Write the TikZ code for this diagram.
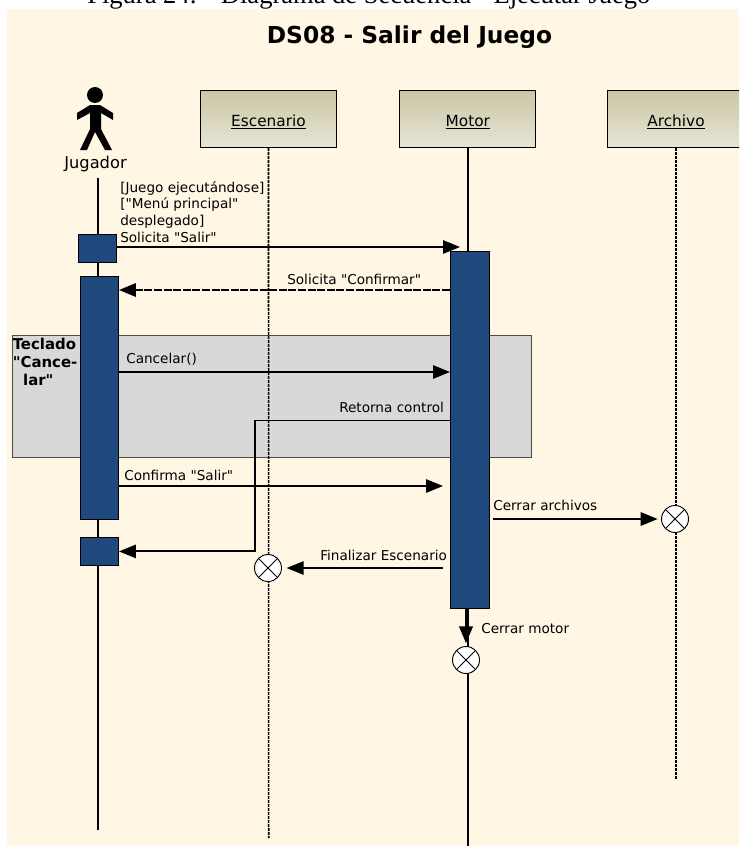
\documentclass[tikz,border=0pt]{standalone}
\usepackage{fontspec}
\defaultfontfeatures[\rmfamily]{}
\setmainfont{DejaVu Sans}
\newfontfamily\captionfont{Liberation Serif}
\usetikzlibrary{arrows.meta}
\definecolor{fondo}{HTML}{FFF6E3}
\definecolor{azul}{HTML}{1F497D}
\definecolor{grisbox}{HTML}{D8D8D8}
\definecolor{cajatop}{HTML}{CBC7A5}
\definecolor{cajabot}{HTML}{E6E4D6}
\tikzset{
  objeto/.style={draw=black,line width=0.8pt,top color=cajatop,bottom color=cajabot,
    minimum width=102pt,minimum height=42.75pt,inner sep=0pt,text height=10.5pt,text depth=0pt,font=\fontsize{11.5pt}{13pt}\selectfont},
  activa/.style={draw=black,line width=0.6pt,fill=azul,minimum width=29pt,inner sep=0pt},
  vida/.style={line width=1.2pt},
  vidap/.style={line width=1.2pt,dash pattern=on 2.4pt off 0.6pt},
  msg/.style={line width=1.4pt,-{Triangle[length=12.75pt,width=10pt]}},
  texto/.style={inner sep=0pt,anchor=base west,font=\fontsize{10.2pt}{12.45pt}\selectfont,align=left},
  fin/.style={circle,draw=black,line width=0.7pt,fill=white,minimum size=20.25pt,inner sep=0pt,
    path picture={
      \draw[line width=0.7pt] (path picture bounding box.north west) -- (path picture bounding box.south east);
      \draw[line width=0.7pt] (path picture bounding box.north east) -- (path picture bounding box.south west);
    }},
}
\begin{document}
\begin{tikzpicture}[x=0.75pt,y=-0.75pt]
  \useasboundingbox (0,0) rectangle (739,846);
  \clip (0,0) rectangle (739,846);
  \node[inner sep=0pt,anchor=base west,font=\captionfont\fontsize{19.9pt}{21pt}\selectfont] (figura) at (87,3) {Figura 24:\hspace{0.9em}Diagrama de Secuencia - Ejecutar Juego};
  \fill[fondo] (7,9) rectangle (739,846);
  \node[inner sep=0pt,font=\bfseries\fontsize{17.5pt}{20pt}\selectfont] (titulo) at (409.5,37.5) {DS08 - Salir del Juego};
  % region gris
  \node[draw=black!70,line width=0.6pt,fill=grisbox,minimum width=389.25pt,minimum height=91.5pt,inner sep=0pt,anchor=north west] (teclado) at (12,334.5) {};
  \node[inner sep=0pt,anchor=base west,align=left,font=\bfseries\fontsize{11.2pt}{13.5pt}\selectfont] (tecladotxt) at (12.5,385) {Teclado\\"Cance-\\\ \ lar"};
  % objetos
  \node[objeto] (escenario) at (268.5,119) {\underline{Escenario}};
  \node[objeto] (motor) at (467.8,119) {\underline{Motor}};
  \node[objeto,minimum width=103pt] (archivo) at (676,119) {\underline{Archivo}};
  % actor
  \fill[black] (95,95) circle (8);
  \fill[black] (90,105) -- (100,105) -- (113,113) -- (113,120) -- (101,113) -- (101,129) -- (112,150) -- (105,150) -- (95,132) -- (87,150) -- (80,150) -- (90,129) -- (90,113) -- (77,120) -- (77,113) -- cycle;
  \node[inner sep=0pt,font=\fontsize{12.2pt}{14pt}\selectfont] (jugador) at (95.5,164) {Jugador};
  % lineas de vida
  \coordinate (jugadorfin) at (98,830);
  \coordinate (jugadorini) at (98,178);
  \coordinate (escenariofin) at (268.7,838);
  \coordinate (motorfin) at (467.8,846);
  \coordinate (archivofin) at (676,780);
  \draw[vida] (jugadorini) -- (jugadorfin);
  \draw[vidap] (escenario.south) -- (escenariofin);
  \draw[vida] (motor.south) -- (motorfin);
  \draw[vidap] (archivo.south) -- (archivofin);
  % activaciones
  \node[activa,minimum height=21pt,anchor=north west] (jug1) at (77.5,234) {};
  \node[activa,minimum height=182.25pt,anchor=north west] (jug2) at (79.5,276) {};
  \node[activa,minimum height=21pt,anchor=north west] (jug3) at (79.5,537) {};
  \node[activa,minimum height=267.75pt,anchor=north west] (mot1) at (450,251) {};
  % destrucciones
  \node[fin] (finesc) at (268,568) {};
  \node[fin] (finarc) at (675,519) {};
  \node[fin] (finmot) at (466,660) {};
  % mensajes
  \coordinate (m1fin) at (460,247);
  \draw[msg] (jug1.east |- m1fin) -- (m1fin);
  \draw[msg,line width=1.7pt,dash pattern=on 6pt off 1.2pt] (mot1.west |- 0,290) -- (jug2.east |- 0,290);
  \draw[msg] (jug2.east |- 0,372) -- (mot1.west |- 0,372);
  \coordinate (retorno) at (255,420.5);
  \draw[msg] (mot1.west |- retorno) -- (retorno) -- (retorno |- jug3.east) -- (jug3.east);
  \coordinate (m5fin) at (443,486);
  \draw[msg] (jug2.east |- m5fin) -- (m5fin);
  \coordinate (m6ini) at (493,519);
  \draw[msg,shorten >=2.5pt] (m6ini) -- (finarc.west);
  \coordinate (m7ini) at (443,568);
  \draw[msg,shorten >=3.5pt] (m7ini) -- (finesc.east);
  \draw[msg,line width=2.2pt,shorten >=2pt] (mot1.south -| finmot) -- (finmot.north);
  % textos
  \node[texto] (guarda) at (120,242) {[Juego ejecutándose]\\{}["Menú principal"\\desplegado]\\Solicita "Salir"};
  \node[texto] (t2) at (287,284) {Solicita "Confirmar"};
  \node[texto] (t3) at (126,363.3) {Cancelar()};
  \node[texto] (t4) at (339,412) {Retorna control};
  \node[texto] (t5) at (124,480) {Confirma "Salir"};
  \node[texto] (t6) at (493,510) {Cerrar archivos};
  \node[texto] (t7) at (320,560.7) {Finalizar Escenario};
  \node[texto] (t8) at (481,633) {Cerrar motor};
\end{tikzpicture}
\end{document}
